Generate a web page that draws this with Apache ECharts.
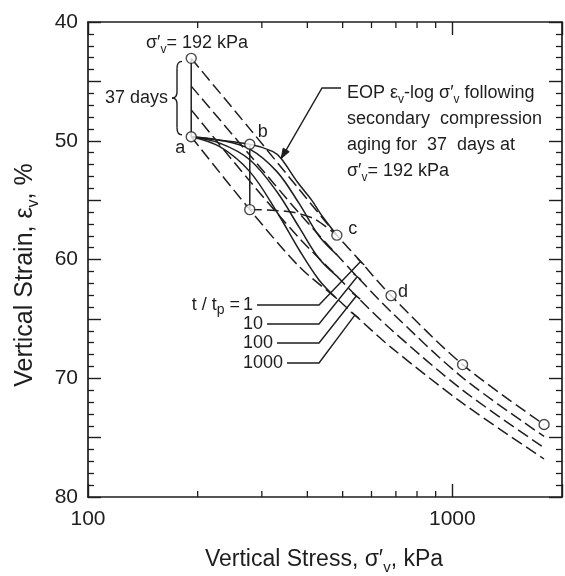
<!DOCTYPE html>
<html>
<head>
<meta charset="utf-8">
<script src="https://cdn.jsdelivr.net/npm/echarts@6/dist/echarts.min.js"></script>
<style>
  html, body { margin: 0; padding: 0; background: #fff; }
  #chart { width: 565px; height: 576px; }
</style>
</head>
<body>
<div id="chart"></div>
<script>
// ---- data -------------------------------------------------------------
// Stress levels (kPa) at which the reference compression curves are read
const curveStress = [192, 278, 380, 482, 550, 679, 1067, 1786];
// EOP (t/tp = 1) and secondary compression curves, vertical strain in %
const strainTp1    = [43.06, 49.0, 54.1, 57.95, 59.9, 63.04, 68.85, 73.9];
const strainTp10   = [45.4, 51.2, 56.1, 59.6, 61.5, 64.4, 69.95, 74.9];
const strainTp100  = [47.4, 53.4, 58.2, 61.4, 63.2, 65.9, 71.0, 75.85];
const strainTp1000 = [49.66, 55.8, 60.6, 63.3, 64.9, 67.4, 72.1, 76.8];

// EOP curve on reloading after 37 days of aging at 192 kPa
const agedEopStress = [192, 278, 321, 339, 376, 411, 438, 482];
const agedEopStrain = [49.66, 50.3, 50.9, 51.5, 53.5, 55.0, 56.3, 57.95];

// t/tp = 10, 100, 1000 curves after aging
const agedStress       = [192, 230, 278, 330, 380, 430, 482];
const agedStrainTp10   = [49.66, 49.95, 50.7, 52.6, 55.3, 58.0, 59.6];
const agedStrainTp100  = [49.66, 50.2, 51.6, 54.3, 57.3, 59.9, 61.4];
const agedStrainTp1000 = [49.66, 50.5, 52.6, 56.0, 59.2, 61.7, 63.3];

// Reloading from the end of secondary compression at 278 kPa
const reloadStress = [278, 319, 369, 419, 482];
const reloadStrain = [55.8, 55.85, 56.05, 56.6, 57.95];

// Secondary compression (aging) steps at constant stress
const agingSteps = [
  [[192, 43.06], [192, 49.66]],
  [[278, 50.3], [278, 55.8]]
];

// Measured EOP points
const pointStress = [192, 192, 278, 278, 482, 679, 1067, 1786];
const pointStrain = [43.06, 49.66, 50.3, 55.8, 57.95, 63.04, 68.85, 73.9];
const pointLetters = [
  { text: 'a', stress: 192, strain: 49.66 },
  { text: 'b', stress: 278, strain: 50.3 },
  { text: 'c', stress: 482, strain: 57.95 },
  { text: 'd', stress: 679, strain: 63.04 }
];

// Axis ticks
const stressTickLabels = [100, 1000];
const stressMinorTicks = [200, 300, 400, 500, 600, 700, 800, 900];
const strainTickLabels = [40, 50, 60, 70, 80];

// Curve labels and the stress where each leader meets its curve
const tpLabels = ['1', '10', '100', '1000'];
const tpLeaderStress = [560, 548, 545, 540];

// ---- drawing ----------------------------------------------------------
const FONT = '"Liberation Sans", Arial, Helvetica, sans-serif';
const INK = '#1e1e1e';
const chart = echarts.init(document.getElementById('chart'), null, { renderer: 'canvas' });

const zip = (xs, ys) => xs.map((x, i) => [x, ys[i]]);
const DASH = { type: [12, 5], width: 1.5, color: INK };
const SOLID = { type: 'solid', width: 1.5, color: INK };

function curve(data, style, smooth) {
  return {
    type: 'line', data, symbol: 'none', showSymbol: false, smooth: smooth || false,
    lineStyle: style, silent: true, animation: false, z: 3, clip: false
  };
}

function strainAt(xs, ys, s) {
  const l = Math.log10(s);
  for (let i = 0; i < xs.length - 1; i++) {
    const a = Math.log10(xs[i]), b = Math.log10(xs[i + 1]);
    if (l >= a && l <= b) return ys[i] + (ys[i + 1] - ys[i]) * (l - a) / (b - a);
  }
  return ys[ys.length - 1];
}

const axisLine = { show: true, lineStyle: { color: INK, width: 1.7 } };
const xAxisBase = {
  type: 'log', logBase: 10, min: 100, max: 2000,
  axisLine, splitLine: { show: false },
  axisTick: { show: true, inside: true, length: 13, lineStyle: { color: INK, width: 1.4 } }
};
const yAxisBase = {
  type: 'value', inverse: true, min: 40, max: 80, interval: 5,
  axisLine, splitLine: { show: false },
  axisTick: { show: true, inside: true, length: 13, lineStyle: { color: INK, width: 1.4 } },
  minorTick: { show: true, splitNumber: 5, length: 6, lineStyle: { color: INK, width: 1.3 } }
};

const series = [
  curve(zip(curveStress, strainTp1), DASH, 0.3),
  curve(zip(curveStress, strainTp10), DASH, 0.3),
  curve(zip(curveStress, strainTp100), DASH, 0.3),
  curve(zip(curveStress, strainTp1000), DASH, 0.3),
  curve(zip(agedEopStress, agedEopStrain), SOLID, 0.3),
  curve(zip(agedStress, agedStrainTp10), SOLID, 0.35),
  curve(zip(agedStress, agedStrainTp100), SOLID, 0.35),
  curve(zip(agedStress, agedStrainTp1000), SOLID, 0.35),
  curve(zip(reloadStress, reloadStrain), DASH, 0.3),
  ...agingSteps.map(seg => curve(seg, SOLID, false)),
  {
    type: 'scatter', data: zip(pointStress, pointStrain), symbol: 'circle', symbolSize: 10,
    itemStyle: { color: '#fff', borderColor: INK, borderWidth: 1.4 }, z: 5, silent: true, animation: false
  },
  {
    // minor ticks of the logarithmic stress axis (bottom and top edges)
    type: 'custom', data: stressMinorTicks.map(v => [v, 80]), silent: true, animation: false, clip: false,
    renderItem: (params, api) => {
      const v = api.value(0);
      const b = api.coord([v, 80]);
      const t = api.coord([v, 40]);
      return {
        type: 'group', children: [
          { type: 'line', shape: { x1: b[0], y1: b[1], x2: b[0], y2: b[1] - 6 }, style: { stroke: INK, lineWidth: 1.3 } },
          { type: 'line', shape: { x1: t[0], y1: t[1], x2: t[0], y2: t[1] + 6 }, style: { stroke: INK, lineWidth: 1.3 } }
        ]
      };
    }
  }
];

chart.setOption({
  animation: false,
  backgroundColor: '#fff',
  grid: { left: 88, right: 2, top: 22, bottom: 79 },
  xAxis: [
    Object.assign({}, xAxisBase, {
      position: 'bottom',
      axisLabel: {
        color: INK, fontSize: 21, fontFamily: FONT, margin: 12,
        formatter: v => (stressTickLabels.indexOf(Math.round(v)) >= 0 ? String(Math.round(v)) : '')
      }
    }),
    Object.assign({}, xAxisBase, { position: 'top', axisLabel: { show: false } })
  ],
  yAxis: [
    Object.assign({}, yAxisBase, {
      position: 'left',
      axisLabel: {
        color: INK, fontSize: 21, fontFamily: FONT, margin: 10,
        formatter: v => (strainTickLabels.indexOf(v) >= 0 ? String(v) : '')
      }
    }),
    Object.assign({}, yAxisBase, { position: 'right', axisLabel: { show: false } })
  ],
  series
});

// ---- annotations ------------------------------------------------------
const px = (s, e) => chart.convertToPixel({ gridIndex: 0 }, [s, e]);
const main = size => ({ fontSize: size, fontFamily: FONT, fill: INK, lineHeight: size + 8 });
const sub = { fontSize: 12, fontFamily: FONT, fill: INK, verticalAlign: 'bottom' };
const rich18 = { m: main(18), s: sub };
const lineStyle = { stroke: INK, lineWidth: 1.4, fill: null };

const graphic = [];

// axis titles
graphic.push({
  type: 'text', x: 324, y: 560,
  style: { text: '{m|Vertical Stress, σ′}{s|v}{m|, kPa}', rich: { m: main(23), s: { fontSize: 15, fontFamily: FONT, fill: INK, verticalAlign: 'bottom' } }, align: 'center', verticalAlign: 'middle' }
});
graphic.push({
  type: 'text', x: 25, y: 275, rotation: Math.PI / 2,
  style: { text: '{m|Vertical Strain, ε}{s|v}{m|, %}', rich: { m: main(25), s: { fontSize: 16, fontFamily: FONT, fill: INK, verticalAlign: 'bottom' } }, align: 'center', verticalAlign: 'middle' }
});

// stress of the aging step
graphic.push({
  type: 'text', x: 197, y: 43,
  style: { text: '{m|σ′}{s|v}{m|= 192 kPa}', rich: rich18, align: 'center', verticalAlign: 'middle' }
});

// brace with duration of aging
const bx = 177, bTop = px(192, 43.06)[1] + 3, bBot = px(192, 49.66)[1] - 2, bMid = (bTop + bBot) / 2;
[
  { x1: bx + 5, y1: bTop, cpx1: bx, cpy1: bTop, x2: bx, y2: bTop + 7 },
  { x1: bx, y1: bMid - 6, cpx1: bx, cpy1: bMid, x2: bx - 5, y2: bMid },
  { x1: bx - 5, y1: bMid, cpx1: bx, cpy1: bMid, x2: bx, y2: bMid + 6 },
  { x1: bx, y1: bBot - 7, cpx1: bx, cpy1: bBot, x2: bx + 5, y2: bBot }
].forEach(shape => graphic.push({ type: 'bezierCurve', shape, style: lineStyle }));
graphic.push({ type: 'line', shape: { x1: bx, y1: bTop + 7, x2: bx, y2: bMid - 6 }, style: lineStyle });
graphic.push({ type: 'line', shape: { x1: bx, y1: bMid + 6, x2: bx, y2: bBot - 7 }, style: lineStyle });
graphic.push({
  type: 'text', x: bx - 9, y: bMid,
  style: { text: '37 days', fontSize: 18, fontFamily: FONT, fill: INK, align: 'right', verticalAlign: 'middle' }
});

// point letters
const letterOffsets = { a: [-11, 11], b: [13, -12], c: [16, -6], d: [12, -4] };
pointLetters.forEach(p => {
  const [x, y] = px(p.stress, p.strain);
  const o = letterOffsets[p.text];
  graphic.push({
    type: 'text', x: x + o[0], y: y + o[1],
    style: { text: p.text, fontSize: 18, fontFamily: FONT, fill: INK, align: 'center', verticalAlign: 'middle' }
  });
});

// callout for the EOP curve after aging
const tip = px(339, strainAt(agedEopStress, agedEopStrain, 339));
const corner = [322, 88], calloutEnd = [341, 88];
graphic.push({ type: 'polyline', shape: { points: [calloutEnd, corner, tip] }, style: lineStyle });
{
  const dx = tip[0] - corner[0], dy = tip[1] - corner[1], L = Math.hypot(dx, dy);
  const ux = dx / L, uy = dy / L, nx = -uy, ny = ux, len = 10, hw = 3.5;
  graphic.push({
    type: 'polygon',
    shape: { points: [tip, [tip[0] - ux * len + nx * hw, tip[1] - uy * len + ny * hw], [tip[0] - ux * len - nx * hw, tip[1] - uy * len - ny * hw]] },
    style: { fill: INK, stroke: INK, lineWidth: 1 }
  });
}
graphic.push({
  type: 'text', x: 347, y: 80,
  style: {
    text: '{m|EOP ε}{s|v}{m|-log σ′}{s|v}{m| following}\n{m|secondary  compression}\n{m|aging for  37  days at}\n{m|σ′}{s|v}{m|= 192 kPa}',
    rich: { m: { fontSize: 18, fontFamily: FONT, fill: INK, lineHeight: 26 }, s: sub },
    align: 'left', verticalAlign: 'top'
  }
});

// t/tp labels with leaders to the curves
const tpCurves = [strainTp1, strainTp10, strainTp100, strainTp1000];
const labelRows = [305, 324, 343, 363];
const labelX = 243;
graphic.push({
  type: 'text', x: labelX - 3, y: labelRows[0],
  style: { text: '{m|t / t}{s|p}{m| =}', rich: { m: { fontSize: 18, fontFamily: FONT, fill: INK, lineHeight: 24 }, s: { fontSize: 14, fontFamily: FONT, fill: INK, verticalAlign: 'bottom' } }, align: 'right', verticalAlign: 'middle' }
});
tpLabels.forEach((t, i) => {
  const y = labelRows[i];
  graphic.push({
    type: 'text', x: labelX, y,
    style: { text: t, fontSize: 18, fontFamily: FONT, fill: INK, align: 'left', verticalAlign: 'middle' }
  });
  const textW = echarts.format.getTextRect ? echarts.format.getTextRect(t, '18px ' + FONT).width : t.length * 10;
  const end = px(tpLeaderStress[i], strainAt(curveStress, tpCurves[i], tpLeaderStress[i]));
  const kink = [319, y];
  graphic.push({ type: 'polyline', shape: { points: [[labelX + textW + 4, y], kink, end] }, style: lineStyle });
  const dx = end[0] - kink[0], dy = end[1] - kink[1], L = Math.hypot(dx, dy);
  const nx = -dy / L, ny = dx / L;
  graphic.push({ type: 'line', shape: { x1: end[0] - nx * 5, y1: end[1] - ny * 5, x2: end[0] + nx * 5, y2: end[1] + ny * 5 }, style: lineStyle });
});

chart.setOption({ graphic });
</script>
</body>
</html>
